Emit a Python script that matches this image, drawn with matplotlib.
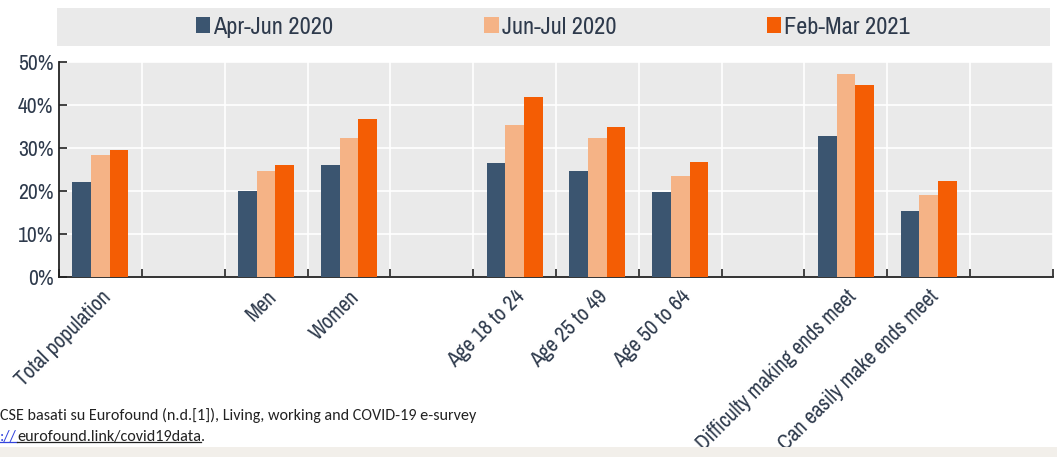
import numpy as np
import matplotlib
matplotlib.use("Agg")
from matplotlib import pyplot as plt
from matplotlib.patches import Rectangle

# slots of the chart, "" = empty gap slot
categories = ["Total population", "", "Men", "Women", "", "Age 18 to 24", "Age 25 to 49",
              "Age 50 to 64", "", "Difficulty making ends meet", "Can easily make ends meet", ""]
series_names = ["Apr-Jun 2020", "Jun-Jul 2020", "Feb-Mar 2021"]
apr_jun_2020 = [22.0, None, 20.1, 26.0, None, 26.4, 24.7, 19.7, None, 32.9, 15.4, None]
jun_jul_2020 = [28.4, None, 24.7, 32.3, None, 35.3, 32.3, 23.4, None, 47.3, 19.1, None]
feb_mar_2021 = [29.6, None, 26.0, 36.7, None, 41.9, 35.0, 26.7, None, 44.6, 22.4, None]
colors = ["#3B5570", "#F5B386", "#F45D04"]
yticks = [0, 10, 20, 30, 40, 50]

narrow = ["Archivo Narrow", "Liberation Sans", "DejaVu Sans"]
txtcol = "#2E3A4C"

fig = plt.figure(figsize=(10.57, 4.57), dpi=100)
ax = fig.add_axes([59/1057, 1-277/457, (1053-59)/1057, (277-62)/457])
ax.set_facecolor("#EAEAEA")

x = np.arange(len(categories))
w = 0.225
allvals = [apr_jun_2020, jun_jul_2020, feb_mar_2021]
for i, (vals, name, c) in enumerate(zip(allvals, series_names, colors)):
    v = np.array([np.nan if a is None else a for a in vals], dtype=float)
    ax.bar(x + (i-1)*w, v, w, color=c, label=name, zorder=3)

ax.set_xlim(-0.5, len(categories)-0.5)
ax.set_ylim(0, 50)
ax.set_yticks(yticks)
ax.set_yticklabels([str(t) + "%" for t in yticks], family=narrow, fontsize=15.5, color=txtcol)

# labels at slot centres, ticks + grid at slot edges
ax.set_xticks(x)
ax.set_xticklabels(categories, rotation=45, ha="right", rotation_mode="anchor",
                   family=narrow, fontsize=15.4, color=txtcol)
ax.tick_params(axis="x", which="major", length=0, pad=7)
ax.set_xticks(np.arange(len(categories)+1) - 0.5, minor=True)
ax.tick_params(axis="x", which="minor", direction="in", length=6, width=1.2, color="#222222")
ax.tick_params(axis="y", direction="in", length=6, width=1.2, color="#222222", pad=4)
ax.grid(True, which="minor", axis="x", color="white", lw=1.2, zorder=1)
ax.grid(True, which="major", axis="y", color="white", lw=1.2, zorder=1)
ax.set_axisbelow(True)

for s in ["top", "right"]:
    ax.spines[s].set_visible(False)
for s in ["left", "bottom"]:
    ax.spines[s].set_color("#222222")
    ax.spines[s].set_linewidth(1.3)

# legend band
fig.patches.append(Rectangle((57/1057, 1-46/457), (1050-57)/1057, 38/457,
                             transform=fig.transFigure, facecolor="#EAEAEA", edgecolor="none", zorder=0))
h, l = ax.get_legend_handles_labels()
fig.legend(h, l, loc="center", bbox_to_anchor=(553/1057, 1-27/457), ncol=3, frameon=False,
           prop={"family": narrow, "size": 17.5}, labelcolor=txtcol,
           handlelength=0.6, handleheight=0.6, handletextpad=0.12, columnspacing=6.2)

# source note (Calibri-like)
foot = ["Carlito", "Lato", "DejaVu Sans"]
fs = 11.6
fig.text(0.0, 1-415/457, "CSE basati su Eurofound (n.d.[1]), Living, working and COVID-19 e-survey",
         family=foot, fontsize=fs, color="#222222", va="center")
fig.canvas.draw()
r = fig.canvas.get_renderer()
y2 = 1-437/457
xpos = 0.0
for s, c, ul in [("://", "#3344DD", True), ("eurofound.link/covid19data", "#222222", True), (".", "#222222", False)]:
    t = fig.text(xpos, y2, s, family=foot, fontsize=fs, color=c, va="center")
    bb = t.get_window_extent(r).transformed(fig.transFigure.inverted())
    if ul:
        fig.add_artist(plt.Line2D([bb.x0, bb.x1], [bb.y0 + 0.005, bb.y0 + 0.005], color=c, lw=0.9,
                                  transform=fig.transFigure))
    xpos = bb.x1
fig.patches.append(Rectangle((0, 0), 1, 10/457, transform=fig.transFigure,
                             facecolor="#F2EFEA", edgecolor="none", zorder=0))

fig.savefig("out.png", dpi=100)
